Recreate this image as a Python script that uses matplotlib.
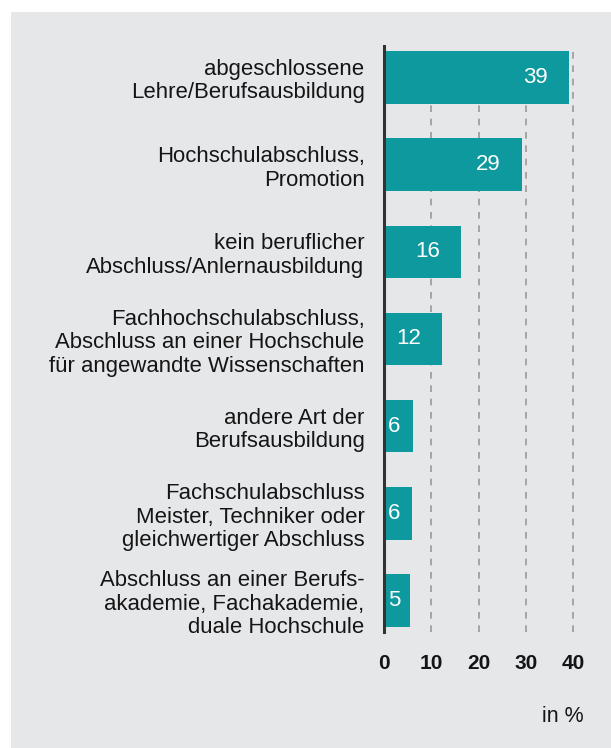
import matplotlib
matplotlib.use("Agg")
import matplotlib.pyplot as plt
from matplotlib.patches import Rectangle

categories = [
    "abgeschlossene\nLehre/Berufsausbildung",
    "Hochschulabschluss,\nPromotion",
    "kein beruflicher\nAbschluss/Anlernausbildung",
    "Fachhochschulabschluss,\nAbschluss an einer Hochschule\nfür angewandte Wissenschaften",
    "andere Art der\nBerufsausbildung",
    "Fachschulabschluss\nMeister, Techniker oder\ngleichwertiger Abschluss",
    "Abschluss an einer Berufs-\nakademie, Fachakademie,\nduale Hochschule",
]
values = [39.1, 29.2, 16.3, 12.3, 6.1, 5.9, 5.5]
value_labels = ["39", "29", "16", "12", "6", "6", "5"]
xticks = [0, 10, 20, 30, 40]
unit_label = "in %"

BG = "#e6e7e9"
BAR = "#0e999f"
TXT = "#151515"
W, H = 611, 748

plt.rcParams["font.family"] = ["Liberation Sans", "DejaVu Sans"]
fig = plt.figure(figsize=(W / 100, H / 100), dpi=100)
fig.patch.set_facecolor("white")
fig.add_artist(Rectangle((11 / W, 0), 1, 1 - 12 / H, transform=fig.transFigure,
                         facecolor=BG, edgecolor="none", zorder=0))

ax = fig.add_axes([384 / W, 1 - 632 / H, (573 - 384) / W, (632 - 46) / H])
ax.set_facecolor("none")
n = len(categories)
ypos = list(range(n))
ax.barh(ypos, values, height=0.6, color=BAR, zorder=3)
ax.set_xlim(0, 40)
ax.set_ylim(n - 1 + 0.36, -0.36)

for x in xticks[1:]:
    ax.axvline(x, color="#9a9a9a", lw=1.2, ls=(0, (4, 4)), zorder=1, clip_on=False)
ax.axvline(0, color="#333333", lw=2.2, zorder=4, clip_on=False)

for s in ax.spines.values():
    s.set_visible(False)

ax.set_yticks(ypos)
ax.set_yticklabels(categories, fontsize=15.9, color=TXT, linespacing=1.16)
ax.tick_params(axis="y", length=0, pad=14)
ax.set_xticks(xticks)
ax.set_xticklabels([str(t) for t in xticks], fontsize=15, fontweight="bold", color=TXT)
ax.tick_params(axis="x", length=0, pad=16)

px = 40 / (573 - 384)
for y, v, lab in zip(ypos, values, value_labels):
    if v >= 10:
        ax.text(v - 21 * px, y, lab, ha="right", va="center", color="white", fontsize=16, zorder=5)
    else:
        ax.text(4 * px, y, lab, ha="left", va="center", color="white", fontsize=16, zorder=5)

fig.text(584 / W, 1 - 717 / H, unit_label, ha="right", va="center", fontsize=15.5, color=TXT)

fig.savefig("out.png", dpi=100)
